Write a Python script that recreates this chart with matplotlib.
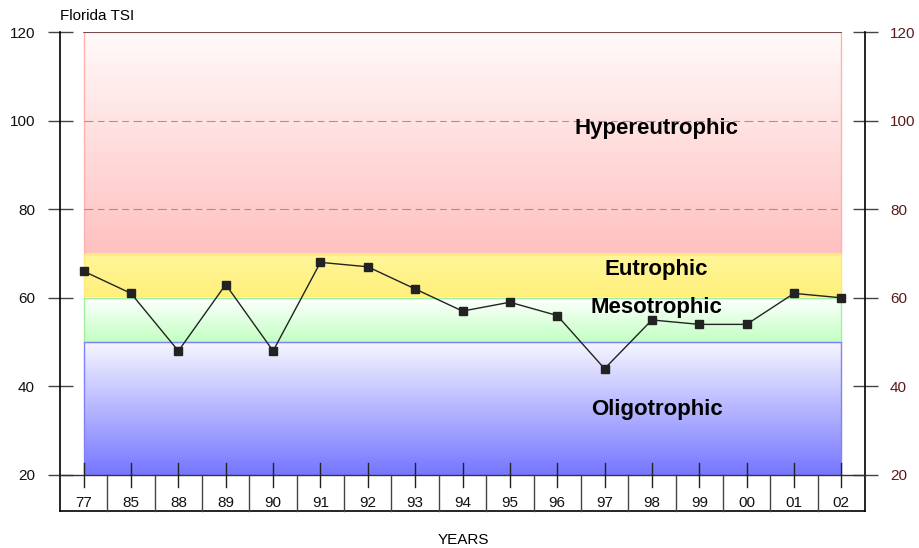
import matplotlib
matplotlib.use("Agg")
import matplotlib.pyplot as plt
import numpy as np
from matplotlib.colors import LinearSegmentedColormap

plt.rcParams['font.family'] = ['Liberation Sans', 'DejaVu Sans']

years = ["77", "85", "88", "89", "90", "91", "92", "93", "94", "95", "96",
         "97", "98", "99", "00", "01", "02"]
tsi = [66, 61, 48, 63, 48, 68, 67, 62, 57, 59, 56, 44, 55, 54, 54, 61, 60]

bands = [
    # name, low, high, top colour, bottom colour, edge colour, label y
    ("Hypereutrophic", 70, 120, "#fffafa", "#ffc0c0", "#ffb0b0", 98.3),
    ("Eutrophic", 60, 70, "#fff59a", "#fff07a", "#ffe880", 66.3),
    ("Mesotrophic", 50, 60, "#ffffff", "#c2ffc2", "#a0f0a0", 57.9),
    ("Oligotrophic", 20, 50, "#f6f6ff", "#7676ff", "#8080ff", 34.7),
]
yticks = [20, 40, 60, 80, 100, 120]

fig = plt.figure(figsize=(9.19, 5.48), dpi=100)
ax = fig.add_axes([60/919, 73/548, 805/919, 443/548])
n = len(years)
x = np.arange(n)
ax.set_xlim(-0.5, n - 0.5)
ax.set_ylim(20, 120)

for name, lo, hi, ctop, cbot, ec, ly in bands:
    cmap = LinearSegmentedColormap.from_list(name, [cbot, ctop])
    grad = np.linspace(0, 1, 256).reshape(-1, 1)
    ax.imshow(grad, cmap=cmap, aspect='auto', origin='lower',
              extent=[0, n - 1, lo, hi], zorder=1)
    ax.plot([0, 0, n - 1, n - 1], [lo, hi, hi, lo], color=ec, lw=1, zorder=2)
    ax.plot([0, n - 1], [lo, lo], color=ec, lw=1, zorder=2)
    ax.text(12.1, ly, name, fontsize=16, fontweight='bold', ha='center',
            va='center', zorder=5)

ax.plot([0, n - 1], [120, 120], color="#603838", lw=1.2, zorder=3)
for g in [80, 100]:
    ax.plot([0, n - 1], [g, g], color="#908080", lw=0.8,
            dashes=(8, 4, 6, 4), zorder=3, alpha=0.8)

ax.plot(x, tsi, color="#222222", lw=1, marker='s', markersize=6,
        markerfacecolor="#222222", markeredgecolor="#222222", zorder=6)

for s in ['top', 'bottom', 'left', 'right']:
    ax.spines[s].set_visible(False)

ylow = 20 - 36/4.43
ax.plot([-0.5, -0.5], [ylow, 120], color='black', lw=1.2, clip_on=False, zorder=7)
ax.plot([n - 0.5, n - 0.5], [ylow, 120], color='black', lw=1.2, clip_on=False, zorder=7)
ax.plot([-0.5, n - 0.5], [20, 20], color='#333333', lw=1, clip_on=False, zorder=7)
ax.plot([-0.5, n - 0.5], [ylow, ylow], color='black', lw=1.2, clip_on=False, zorder=7)
for i in range(n - 1):
    ax.plot([i + 0.5, i + 0.5], [ylow, 20], color='#444444', lw=1, clip_on=False, zorder=7)
for i in range(n):
    ax.plot([i, i], [20 - 12/4.43, 20 + 12/4.43], color='#222222', lw=1, clip_on=False, zorder=7)
    ax.text(i, 20 - 28/4.43, years[i], ha='center', va='center', fontsize=11,
            color='#111111')

ax.set_xticks([])
ax.set_yticks(yticks)
ax.tick_params(axis='y', direction='inout', length=18, width=1, color='#444444',
               labelsize=11, pad=9, left=True, right=True, labelleft=True,
               labelright=True)
for t in ax.yaxis.get_major_ticks():
    t.label2.set_color('#5a1a1a')
    t.label1.set_color('#111111')

fig.text(60/919, 1 - 16/548, "Florida TSI", fontsize=11, ha='left', va='center')
fig.text(463/919, 1 - 540/548, "YEARS", fontsize=11, ha='center', va='center')

fig.savefig("out.png", dpi=100)
